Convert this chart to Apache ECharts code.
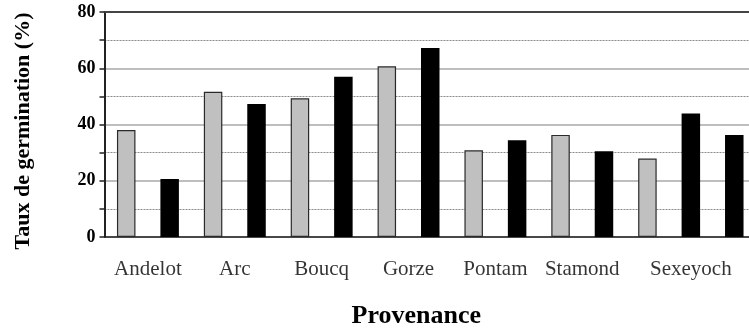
<!DOCTYPE html>
<html>
<head>
<meta charset="utf-8">
<script src="https://cdn.jsdelivr.net/npm/echarts@6/dist/echarts.min.js"></script>
<style>
  html, body { margin: 0; padding: 0; background: #ffffff; }
  #chart { width: 749px; height: 329px; }
</style>
</head>
<body>
<div id="chart"></div>
<script>
// Germination rate per bar, left to right
const barValues = [38.0, 20.6, 51.6, 47.3, 49.3, 57.0, 60.7, 67.2, 30.8, 34.4, 36.3, 30.5, 27.9, 43.9, 36.3];
// Shade of each bar: 'clair' = grey, 'fonce' = black
const barShades = ['clair', 'fonce', 'clair', 'fonce', 'clair', 'fonce', 'clair', 'fonce',
                   'clair', 'fonce', 'clair', 'fonce', 'clair', 'fonce', 'fonce'];
// Provenance index that each bar belongs to
const barProvenance = [0, 0, 1, 1, 2, 2, 3, 3, 4, 4, 5, 5, 6, 6, 6];
const provenances = ['Andelot', 'Arc', 'Boucq', 'Gorze', 'Pontam', 'Stamond', 'Sexeyoch'];
const yTicks = [0, 20, 40, 60, 80];

const FONT = '"Liberation Serif", "Times New Roman", serif';
const slots = barValues.map((_, i) => String(i));

const greySeries = barValues.map((v, i) => barShades[i] === 'clair' ? v : null);
const blackSeries = barValues.map((v, i) => barShades[i] === 'fonce' ? v : null);

// Each provenance name sits under the middle of its bars
const labelPoints = provenances.map((name, p) => {
  const idx = barProvenance.map((g, i) => g === p ? i : -1).filter(i => i >= 0);
  const mid = idx.reduce((a, b) => a + b, 0) / idx.length;
  return { value: [mid, 0], name: name };
});

const chart = echarts.init(document.getElementById('chart'), null, { renderer: 'canvas' });
chart.setOption({
  animation: false,
  backgroundColor: '#ffffff',
  grid: { left: 104.5, right: -7, top: 12, bottom: 92, containLabel: false, outerBoundsMode: 'none' },
  xAxis: [
    {
      type: 'category',
      data: slots,
      position: 'bottom',
      boundaryGap: true,
      axisLine: { show: true, onZero: false, lineStyle: { color: '#222', width: 1.5 } },
      axisTick: { show: false },
      axisLabel: { show: false },
      splitLine: { show: false },
      name: 'Provenance',
      nameLocation: 'middle',
      nameGap: 66,
      nameTextStyle: { fontFamily: FONT, fontWeight: 'bold', fontSize: 26, color: '#000', padding: [0, 28, 0, 0] }
    },
    {
      type: 'value',
      position: 'top',
      min: -0.5,
      max: slots.length - 0.5,
      axisLine: { show: true, onZero: false, lineStyle: { color: '#444', width: 2 } },
      axisTick: { show: false },
      axisLabel: { show: false },
      splitLine: { show: false }
    }
  ],
  yAxis: {
    type: 'value',
    min: yTicks[0],
    max: yTicks[yTicks.length - 1],
    interval: yTicks[1] - yTicks[0],
    axisLine: { show: true, onZero: false, lineStyle: { color: '#222', width: 2 } },
    axisTick: { show: true, inside: false, length: 5, lineStyle: { color: '#222', width: 1.5 } },
    minorTick: { show: true, splitNumber: 2, length: 5, lineStyle: { color: '#222', width: 1.5 } },
    axisLabel: {
      fontFamily: FONT, fontWeight: 'bold', fontSize: 18, color: '#000', margin: 9
    },
    splitLine: { show: true, lineStyle: { color: '#a8a8a8', width: 1.5 } },
    minorSplitLine: { show: true, lineStyle: { color: '#8a8a8a', width: 1, type: [2, 1] } },
    name: 'Taux de germination (%)',
    nameLocation: 'middle',
    nameRotate: 90,
    nameGap: 70,
    nameTextStyle: { fontFamily: FONT, fontWeight: 'bold', fontSize: 22, color: '#000', padding: [0, 13, 0, 0] }
  },
  series: [
    {
      name: 'clair',
      type: 'bar',
      data: greySeries,
      barWidth: 18.5,
      barGap: '-100%',
      itemStyle: { color: '#c0c0c0', borderColor: '#2a2a2a', borderWidth: 1.2 }
    },
    {
      name: 'fonce',
      type: 'bar',
      data: blackSeries,
      barWidth: 18.5,
      barGap: '-100%',
      itemStyle: { color: '#000000' }
    },
    {
      name: 'provenances',
      type: 'scatter',
      xAxisIndex: 1,
      data: labelPoints,
      symbolSize: 0,
      clip: false,
      silent: true,
      label: {
        show: true,
        position: 'bottom',
        distance: 22,
        formatter: p => p.name,
        fontFamily: FONT,
        fontSize: 21,
        color: '#000'
      }
    }
  ]
});
</script>
</body>
</html>
